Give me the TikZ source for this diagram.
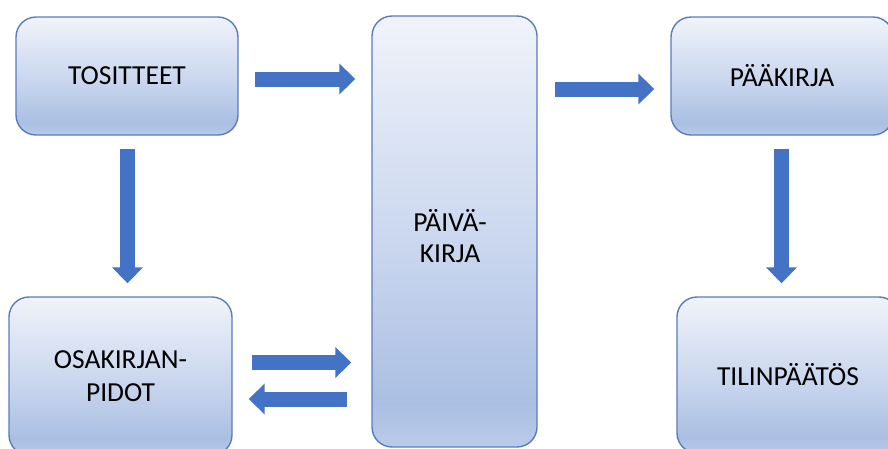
\documentclass[tikz,border=0pt]{standalone}
\usepackage{fontspec}
\setmainfont{Carlito}
\usetikzlibrary{arrows.meta,calc}

\definecolor{gTop}{HTML}{F0F3FA}
\definecolor{gMid}{HTML}{C9D6EE}
\definecolor{gDark}{HTML}{AABFE3}
\definecolor{gBot}{HTML}{BACAE9}
\definecolor{boxEdge}{HTML}{5A7CBB}
\definecolor{arrowBlue}{HTML}{4472C4}

% light-to-blue fill; the path spans 25bp (bottom) to 75bp (top)
\pgfdeclareverticalshading{boxfill}{100bp}{%
  color(0bp)=(gBot); color(25bp)=(gBot); color(30bp)=(gDark);
  color(48bp)=(gMid); color(75bp)=(gTop); color(100bp)=(gTop)}

\tikzset{
  card/.style={draw=boxEdge, line width=1.4pt, rounded corners=20pt,
    shading=boxfill, rectangle, align=center, text=black,
    font=\fontsize{27.5}{33}\selectfont, inner sep=0pt},
  blockarrow/.style={draw=arrowBlue, line width=15pt,
    -{Triangle[width=30pt,length=16pt]}},
}

\begin{document}
\begin{tikzpicture}[x=1pt,y=-1pt]
  \useasboundingbox (0,0) rectangle (888,448);
  \clip (0,0) rectangle (888,448);

  \node[card, minimum width=222pt, minimum height=118pt] (tos) at (127,76) {TOSITTEET};
  \node[card, minimum width=165pt, minimum height=431pt] (paiva) at (454.5,231.5) {};
  \node[font=\fontsize{27.5}{31}\selectfont, align=center] (paivatxt) at (450,236) {PÄIVÄ-\\KIRJA};
  \node[card, minimum width=222pt, minimum height=118pt] (paa) at (782,76) {PÄÄKIRJA};
  \node[card, minimum width=223pt, minimum height=158pt] (osa) at (120.5,376) {OSAKIRJAN-\\PIDOT};
  \node[card, minimum width=222pt, minimum height=156pt] (tilin) at (788,375) {TILINPÄÄTÖS};

  % flow arrows between the blocks
  \draw[blockarrow] ($(tos.east)+(16,3)$) -- ($(paiva.west |- tos.east)+(-16,3)$);
  \draw[blockarrow] ($(paiva.east |- paa.west)+(17,13)$) -- ($(paa.west)+(-16,13)$);
  \draw[blockarrow] ($(tos.south)+(0.5,13)$) -- ($(osa.north -| tos.south)+(0.5,-13)$);
  \draw[blockarrow] ($(paa.south)+(-0.5,13)$) -- ($(tilin.north -| paa.south)+(-0.5,-13)$);
  \draw[blockarrow] ($(osa.east)+(19,-13.5)$) -- ($(paiva.west |- osa.east)+(-20,-13.5)$);
  \draw[blockarrow] ($(paiva.west |- osa.east)+(-24,23)$) -- ($(osa.east)+(16,23)$);
\end{tikzpicture}
\end{document}
